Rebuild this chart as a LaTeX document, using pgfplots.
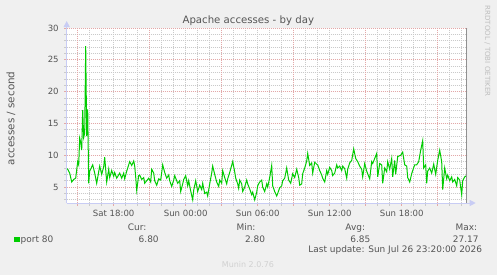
\documentclass[border=0pt]{standalone}
\usepackage{fontspec}
\setmainfont{DejaVu Sans}
\usepackage{pgfplots}
\pgfplotsset{compat=1.18}
\usetikzlibrary{arrows.meta}
\definecolor{bgcol}{HTML}{F0F0F0}
\definecolor{txtcol}{HTML}{555555}
\definecolor{gridgray}{HTML}{CACACA}
\definecolor{gridred}{HTML}{E3A8A8}
\definecolor{axcol}{HTML}{C8CCF4}
\definecolor{framecol}{HTML}{909090}
\definecolor{datagreen}{HTML}{00CC00}
\begin{document}
\begin{tikzpicture}
\useasboundingbox (0,0) rectangle (497bp,-275bp);
\fill[bgcol] (0,0) rectangle (497bp,-275bp);
\begin{axis}[
  at={(66.7bp,-203bp)}, anchor=south west,
  scale only axis, width=400bp, height=175bp,
  xmin=-119, xmax=281, ymin=2.5, ymax=30,
  clip=false,
  axis background/.style={fill=white},
  axis line style={draw=none},
  /pgf/number format/assume math mode=true,
  tick label style={font=\fontsize{8.6}{10}\selectfont, text=txtcol},
  xtick={-72,0,72,144,216},
  xticklabels={Sat 18:00,Sun 00:00,Sun 06:00,Sun 12:00,Sun 18:00},
  minor xtick={-108,-96,...,276},
  extra x ticks={-108,-36,36,108,180,252},
  extra x tick labels={},
  extra x tick style={xmajorgrids=true, major tick style={gridred}},
  ytick={5,10,...,30},
  minor ytick={3,4,6,7,8,9,11,12,13,14,16,17,18,19,21,22,23,24,26,27,28,29},
  xmajorgrids=false, xminorgrids=true,
  ymajorgrids=true, yminorgrids=true,
  major grid style={gridred, line width=0.8bp, dash pattern=on 1bp off 1bp},
  minor grid style={gridgray, line width=0.8bp, dash pattern=on 1bp off 1bp},
  tick align=outside, tick pos=left,
  major tick length=2.5bp, minor tick length=2.5bp,
  major tick style={gridred, line width=0.8bp},
  minor tick style={gridgray, line width=0.8bp},
  xticklabel style={yshift=-1bp},
  yticklabel style={xshift=-2bp},
]
\addplot[datagreen, line width=1bp] coordinates {
(-119,7.9) (-118,7.8) (-116,7.2) (-114,5.8) (-112,6.2) (-110,6.4) (-109,7.7) (-108,9.0)
(-107,8.5) (-106,12.7) (-105,12.0) (-104,10.8) (-103,17.1) (-102,12.8) (-101,13.5)
(-100,27.17) (-99,13.0) (-98,17.2) (-97,5.6) (-96,7.5) (-93,8.5) (-91,7.2) (-89,5.6)
(-87,7.4) (-86,8.3) (-84,7.0) (-82,8.2) (-81,9.7) (-79,5.8) (-77,7.8) (-76,6.5) (-74,7.6)
(-72,6.7) (-71,7.3) (-69,6.4) (-66,7.2) (-64,6.4) (-62,7.2) (-61,6.3) (-59,7.5) (-56,9.0)
(-54,8.4) (-52,9.1) (-51,8.3) (-50,6.6) (-49,4.5) (-47,6.8) (-46,6.9) (-44,6.2) (-42,6.5)
(-41,5.6) (-39,6.0) (-37,6.4) (-35,5.8) (-34,7.8) (-32,7.2) (-31,6.0) (-29,5.3) (-27,6.3)
(-25,6.1) (-23,8.5) (-21,7.3) (-19,6.4) (-17,6.9) (-16,6.0) (-14,5.1) (-12,6.1) (-11,6.8)
(-8,5.6) (-6,6.0) (-5,4.3) (-3,5.5) (-2,6.2) (0,6.8) (2,5.2) (3,6.0) (5,4.4) (7,3.0)
(8,4.5) (10,6.0) (12,4.3) (14,5.3) (16,4.6) (17,5.6) (19,4.0) (21,4.2) (22,3.6) (24,5.5)
(26,7.2) (27,8.3) (29,7.0) (31,5.8) (33,5.1) (34,6.1) (36,5.6) (37,7.6) (39,6.5) (41,5.5)
(42,6.3) (44,7.3) (47,9.0) (49,7.4) (50,6.4) (52,5.5) (53,4.8) (54,6.1) (56,5.5) (57,4.3)
(59,5.0) (61,6.1) (62,5.5) (64,4.7) (66,3.8) (67,4.2) (69,3.0) (71,4.2) (72,5.2) (74,5.8)
(76,6.1) (77,5.0) (79,4.3) (81,5.5) (82,5.0) (84,6.5) (86,8.4) (87,5.2) (89,4.3) (91,3.6)
(92,4.0) (94,4.9) (96,5.2) (97,6.0) (99,6.4) (101,8.0) (103,6.1) (105,5.6) (107,7.1)
(109,6.5) (111,7.8) (113,6.5) (114,5.3) (116,5.5) (117,7.1) (119,8.0) (121,9.1) (122,10.3)
(124,8.4) (126,8.8) (127,7.2) (129,8.9) (131,8.6) (132,8.5) (134,7.6) (136,6.9) (137,6.4)
(139,5.8) (141,7.6) (142,7.0) (144,8.1) (146,7.6) (147,6.8) (149,7.2) (151,8.5) (152,8.0)
(154,8.3) (156,7.6) (157,8.3) (159,7.9) (161,6.4) (162,7.8) (164,8.8) (166,9.2) (168,11.0)
(170,9.5) (172,9.0) (174,8.3) (176,7.8) (177,6.6) (179,8.7) (181,7.5) (184,6.3) (186,9.0)
(187,8.7) (189,9.5) (191,10.3) (192,6.6) (194,8.7) (196,8.5) (197,5.6) (199,8.0) (201,7.4)
(202,9.0) (204,7.8) (206,9.5) (207,6.6) (209,9.2) (210,7.0) (212,9.8) (215,10.0) (217,10.5)
(219,8.5) (221,8.3) (222,6.5) (224,5.8) (226,7.1) (227,7.6) (229,8.5) (231,8.5) (233,9.0)
(235,10.8) (237,12.3) (238,8.0) (240,8.5) (241,5.6) (242,7.5) (244,8.0) (246,7.2) (248,8.6)
(250,7.0) (252,9.2) (254,10.8) (256,9.0) (257,4.6) (259,8.0) (261,6.3) (262,6.9) (264,6.0)
(266,6.6) (267,5.8) (269,6.2) (271,5.2) (272,6.5) (274,6.1) (276,3.8) (277,6.0) (279,6.6)
(281,6.8)
};
\draw[framecol, line width=1.2bp] (rel axis cs:1,0) -- (rel axis cs:1,1);
\draw[axcol, line width=1bp, -{Triangle[length=6bp,width=6bp]}] (rel axis cs:0,0) -- ([yshift=7bp]rel axis cs:0,1);
\draw[axcol, line width=1bp, -{Triangle[length=6bp,width=6bp]}] (rel axis cs:0,0) -- ([xshift=9bp]rel axis cs:1,0);
\end{axis}
% title and labels
\node[anchor=base, inner sep=0, text=txtcol, font=\fontsize{10.2}{12}\selectfont] at (248.3bp,-23.5bp) {Apache accesses - by day};
\node[rotate=90, inner sep=0, text=txtcol, font=\fontsize{10.4}{12}\selectfont] at (11bp,-118.3bp) {accesses / second};
\node[rotate=-90, inner sep=0, text=black!25, font=\fontsize{7.1}{8}\selectfont] at (487.5bp,-51bp) {RRDTOOL / TOBI OETIKER};
% legend
\fill[datagreen] (14bp,-236.7bp) rectangle (19.6bp,-242.3bp);
\begin{scope}[every node/.style={inner sep=0, text=txtcol, font=\fontsize{9}{11}\selectfont}]
\node[anchor=base west] at (20.5bp,-242.7bp) {port 80};
\node[anchor=base] at (137.2bp,-230.5bp) {Cur:};
\node[anchor=base] at (148.7bp,-242.7bp) {6.80};
\node[anchor=base] at (246bp,-230.5bp) {Min:};
\node[anchor=base] at (255bp,-242.7bp) {2.80};
\node[anchor=base] at (355.2bp,-230.5bp) {Avg:};
\node[anchor=base] at (360.3bp,-242.7bp) {6.85};
\node[anchor=base] at (466.3bp,-230.5bp) {Max:};
\node[anchor=base] at (465.8bp,-242.7bp) {27.17};
\node[anchor=base east] at (482.3bp,-252.5bp) {Last update: Sun Jul 26 23:20:00 2026};
\end{scope}
\node[anchor=base, inner sep=0, text=black!18, font=\fontsize{8}{10}\selectfont] at (248bp,-267bp) {Munin 2.0.76};
\end{tikzpicture}
\end{document}
